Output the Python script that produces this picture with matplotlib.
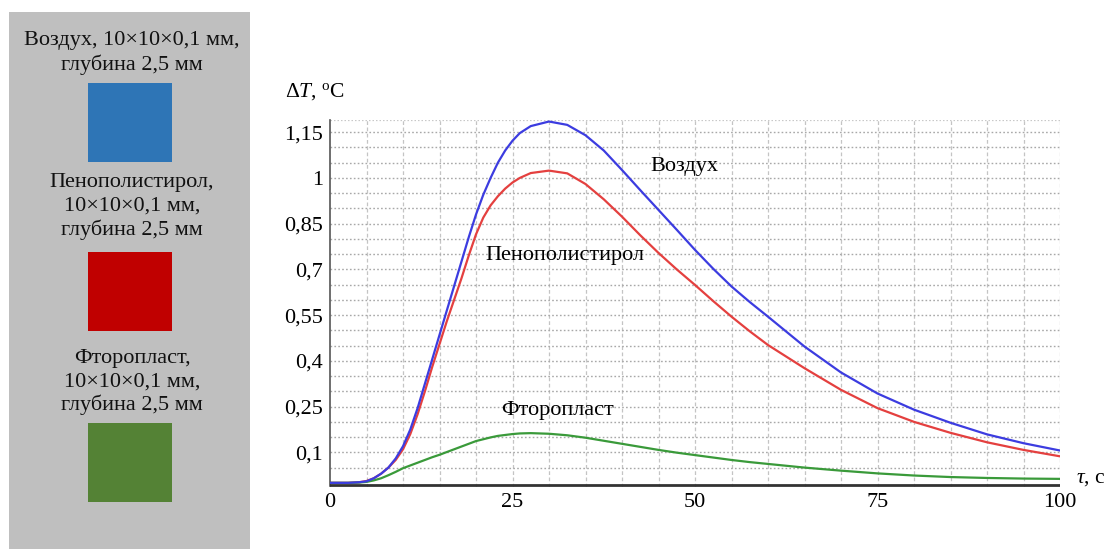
import matplotlib
matplotlib.use("Agg")
import matplotlib.pyplot as plt
from matplotlib.patches import Rectangle

plt.rcParams['font.family'] = ['Liberation Serif', 'DejaVu Serif']
plt.rcParams['mathtext.fontset'] = 'custom'
plt.rcParams['mathtext.rm'] = 'Liberation Serif'
plt.rcParams['mathtext.it'] = 'Liberation Serif:italic'

# ---- data ----
t = [0, 2.5, 4, 5, 6, 7, 8, 9, 10, 11, 12, 13, 14, 15, 16, 17, 18, 19, 20, 21,
     22, 23, 24, 25, 26, 27.5, 30, 32.5, 35, 37.5, 40, 42.5, 45, 47.5, 50, 52.5,
     55, 57.5, 60, 65, 70, 75, 80, 85, 90, 95, 100]
air = [0, 0, 0.002, 0.005, 0.015, 0.03, 0.05, 0.08, 0.12, 0.175, 0.245, 0.325,
       0.405, 0.485, 0.565, 0.645, 0.725, 0.805, 0.88, 0.945, 1.0, 1.05, 1.09,
       1.122, 1.147, 1.17, 1.185, 1.174, 1.14, 1.09, 1.026, 0.96, 0.895, 0.83,
       0.764, 0.702, 0.644, 0.593, 0.545, 0.447, 0.362, 0.293, 0.24, 0.197,
       0.159, 0.13, 0.106]
foam = [0, 0, 0.002, 0.006, 0.015, 0.03, 0.05, 0.075, 0.11, 0.16, 0.225, 0.30,
        0.38, 0.455, 0.53, 0.60, 0.67, 0.745, 0.815, 0.87, 0.91, 0.94, 0.965,
        0.985, 1.0, 1.016, 1.024, 1.015, 0.98, 0.93, 0.873, 0.812, 0.754, 0.70,
        0.649, 0.596, 0.545, 0.497, 0.452, 0.376, 0.305, 0.245, 0.2, 0.164,
        0.133, 0.108, 0.087]
ptfe = [0, 0, 0.001, 0.003, 0.008, 0.015, 0.025, 0.036, 0.048, 0.057, 0.066,
        0.075, 0.084, 0.092, 0.101, 0.11, 0.119, 0.128, 0.137, 0.143, 0.149,
        0.154, 0.157, 0.16, 0.162, 0.163, 0.161, 0.156, 0.148, 0.138, 0.128,
        0.118, 0.108, 0.099, 0.091, 0.083, 0.075, 0.068, 0.062, 0.05, 0.04,
        0.031, 0.024, 0.019, 0.016, 0.014, 0.013]

x_ticks = [0, 25, 50, 75, 100]
y_ticks = [0.1, 0.25, 0.4, 0.55, 0.7, 0.85, 1.0, 1.15]
y_tick_labels = ['0,1', '0,25', '0,4', '0,55', '0,7', '0,85', '1', '1,15']

curve_labels = ['Воздух', 'Пенополистирол', 'Фторопласт']
curve_colors = ['#3c3ce0', '#e4403f', '#3a9a3a']

panel_lines = [['Воздух, 10×10×0,1 мм,', 'глубина 2,5 мм'],
               ['Пенополистирол,', '10×10×0,1 мм,', 'глубина 2,5 мм'],
               ['Фторопласт,', '10×10×0,1 мм,', 'глубина 2,5 мм']]
panel_colors = ['#2e75b6', '#c00000', '#548235']

W, H = 1106, 549
fig = plt.figure(figsize=(W / 100, H / 100), dpi=100)

def fx(p):
    return p / W

def fy(p):
    return 1 - p / H

# ---- main axes ----
x0, x1 = 330, 1060
y0, y1 = 486.5, 120
ax = fig.add_axes([fx(x0), fy(y0), fx(x1 - x0), (y0 - y1) / H])
ax.set_xlim(0, 100)
ax.set_ylim(-0.012, 1.19)

for xv in range(5, 101, 5):
    ax.axvline(xv, color='#c4c4c4', lw=0.9, ls=(0, (3, 2)), zorder=0)
for i in range(1, 24):
    ax.axhline(i * 0.05, color='#a8a8a8', lw=1.0, ls=(0, (1.2, 1.6)), zorder=0)
ax.axhline(1.19, color='#c8c8c8', lw=0.9, ls=(0, (1.2, 1.6)), zorder=0)

ax.plot(t, air, color=curve_colors[0], lw=1.6, zorder=3)
ax.plot(t, foam, color=curve_colors[1], lw=1.6, zorder=2)
ax.plot(t, ptfe, color=curve_colors[2], lw=1.6, zorder=2)
ax.axhline(-0.008, color='#333333', lw=2.0, zorder=4)

ax.set_xticks(x_ticks)
ax.set_xticklabels([str(v) for v in x_ticks])
ax.set_yticks(y_ticks)
ax.set_yticklabels(y_tick_labels)
ax.tick_params(length=0, labelsize=16)
ax.tick_params(axis='x', pad=5)
ax.tick_params(axis='y', pad=5)
for s in ['top', 'right', 'bottom']:
    ax.spines[s].set_visible(False)
ax.spines['left'].set_color('#555555')
ax.spines['left'].set_linewidth(1.2)
ax.set_facecolor('white')

ax.text(48.5, 1.036, curve_labels[0], fontsize=16, ha='center', va='center')
ax.text(32.2, 0.744, curve_labels[1], fontsize=16, ha='center', va='center')
ax.text(31.1, 0.236, curve_labels[2], fontsize=16, ha='center', va='center')

fig.text(fx(285), fy(92), r'$\Delta\mathit{T}$, $^{\rm o}$C', fontsize=15.5,
         ha='left', va='center')
fig.text(fx(1076), fy(478), r'$\mathit{\tau}$, с', fontsize=15.5,
         ha='left', va='center')

# ---- left panel ----
fig.add_artist(Rectangle((fx(9), 0), fx(250 - 9), fy(12), transform=fig.transFigure,
                         facecolor='#bfbfbf', edgecolor='none', zorder=0))
line_centres = [[41, 65], [182, 206, 230], [358, 382, 405]]
sq_tops = [83, 252, 423]
for lines, ys, sy, col in zip(panel_lines, line_centres, sq_tops, panel_colors):
    for txt, ly in zip(lines, ys):
        fig.text(fx(132), fy(ly), txt, fontsize=16, ha='center', va='center',
                 color='#111111')
    fig.add_artist(Rectangle((fx(88), fy(sy + 79)), fx(84), 79 / H,
                             transform=fig.transFigure, facecolor=col,
                             edgecolor='none'))

fig.savefig('out.png', dpi=100)
